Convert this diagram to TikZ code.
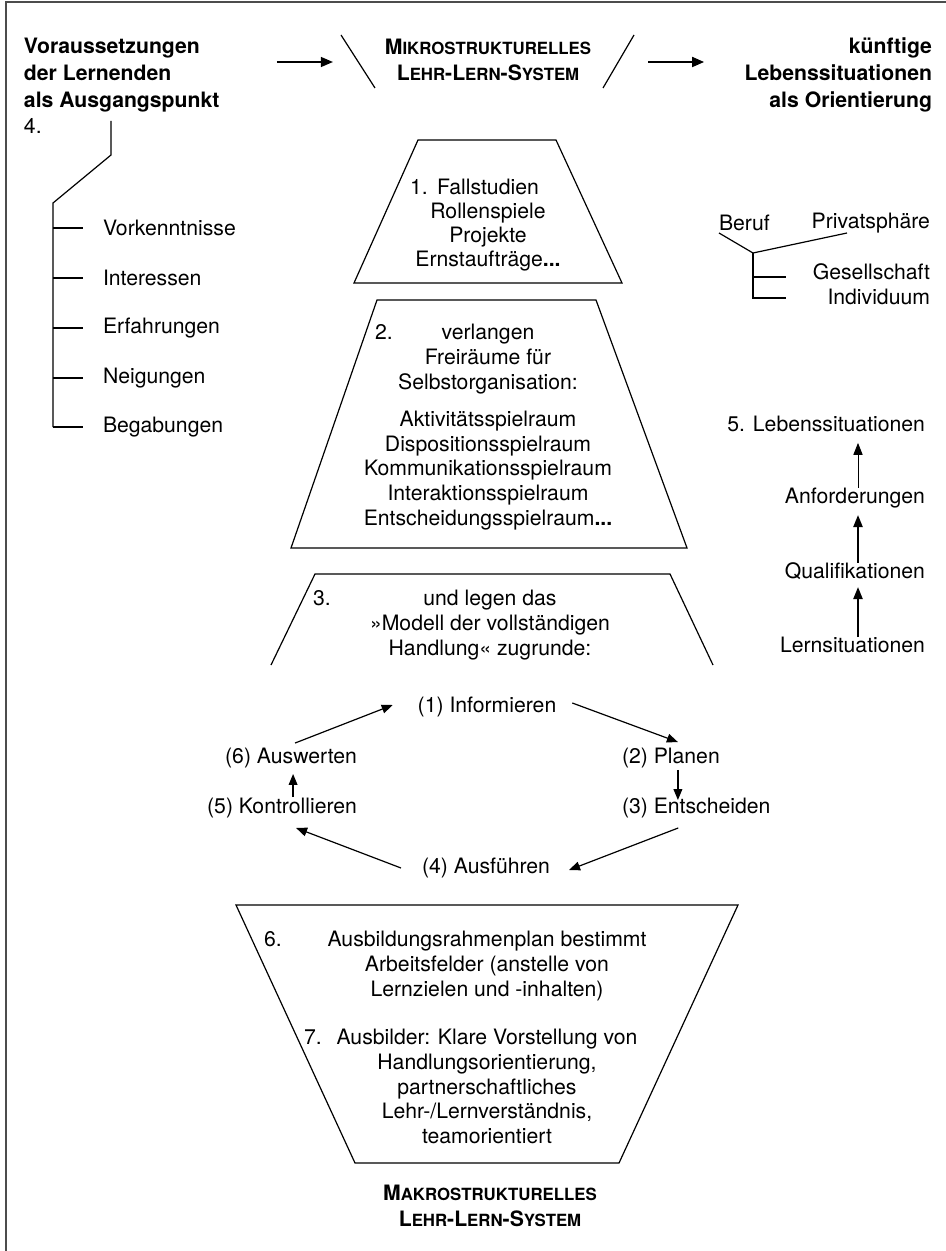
\documentclass[tikz,border=0pt]{standalone}
\usepackage{fontspec}
\setmainfont{TeX Gyre Heros}
\usetikzlibrary{arrows.meta, positioning}

% fake small caps for the system names
\newcommand{\ksc}[2]{#1{\fontsize{8.4}{9}\selectfont #2}}

\begin{document}
\begin{tikzpicture}[
    % ── Global: one unit = one pixel of the page, y downwards ──
    x=0.5pt, y=-0.5pt,
    every node/.style={inner sep=0pt, outer sep=0pt},
    % ── Text styles ──
    txt/.style={font=\fontsize{10.6}{12.3}\selectfont},
    ctxt/.style={txt, align=center},
    head/.style={font=\fontsize{10.6}{13.5}\selectfont\bfseries},
    sysname/.style={font=\fontsize{10.6}{12.8}\selectfont\bfseries, align=center},
    num/.style={txt, anchor=west},
    % ── Line styles ──
    shapeline/.style={line width=0.6pt, draw=black},
    frame/.style={line width=1pt, draw=black!70},
    harrow/.style={-{Triangle[length=6pt, width=5pt]}, line width=0.7pt},
    cyc/.style={-{Triangle[length=5.5pt, width=4.4pt]}, line width=0.6pt},
    uparrow/.style={-{Triangle[length=6pt, width=4.6pt]}, line width=0.9pt},
]

\useasboundingbox (0,0) rectangle (946,1251);
\draw[frame] (6,1251) -- (6,2) -- (946,2);

% ════════════════════════════════════════════════════════
%  HEADER
% ════════════════════════════════════════════════════════

\node (vor) [head, align=left, anchor=north west] at (24,38)
    {Voraussetzungen\\der Lernenden\\als Ausgangspunkt};

\node (zuk) [head, align=right, anchor=north east] at (932,38)
    {künftige\\Lebenssituationen\\als Orientierung};

\node (mik) [sysname] at (488,60)
    {\ksc{M}{IKROSTRUKTURELLES}\\\ksc{L}{EHR}-\ksc{L}{ERN}-\ksc{S}{YSTEM}};

\draw[shapeline] (341,35) -- (375,88);
\draw[shapeline] (634,35) -- (603,88);

\draw[harrow, line width=0.6pt] ([shift={(-108,2)}]mik.west) -- ([shift={(-52,2)}]mik.west);
\draw[harrow, line width=0.9pt] ([shift={(57,2)}]mik.east) -- ([shift={(113,2)}]mik.east);

% ════════════════════════════════════════════════════════
%  LEFT: 4. Voraussetzungen
% ════════════════════════════════════════════════════════

\node (n4) [num] at (24,126) {4.};
\draw[shapeline] (111,121) -- (111,155) -- (53,203) -- (53,427);

\foreach \y/\name/\lbl in {228/vk/Vorkenntnisse, 278/ir/Interessen,
        328/ef/Erfahrungen, 378/ng/Neigungen, 427/bg/Begabungen} {
    \node (\name) [txt, anchor=west] at (103,\y) {\lbl};
    \draw[shapeline] (53,\y) -- ([xshift=-10pt]\name.west);
}

% ════════════════════════════════════════════════════════
%  RIGHT: Lebensbereiche and 5. Lebenssituationen
% ════════════════════════════════════════════════════════

\node (ber) [txt, anchor=west] at (719,223) {Beruf};
\node (pri) [txt, anchor=east] at (930,223) {Privatsphäre};
\node (ges) [txt, anchor=east] at (930,272) {Gesellschaft};
\node (ind) [txt, anchor=east] at (930,297) {Individuum};

\coordinate (fork) at (753,253);
\draw[shapeline] (719,233) -- (fork) -- (847,233);
\draw[shapeline] (fork) -- (753,298) -- (786,298);
\draw[shapeline] (753,277) -- (786,277);

\node (leb) [txt, anchor=east] at (925,424) {5. Lebenssituationen};
\node (anf) [txt, anchor=east] at (925,498) {Anforderungen};
\node (qua) [txt, anchor=east] at (925,571) {Qualifikationen};
\node (lsi) [txt, anchor=east] at (925,645) {Lernsituationen};

\coordinate (axis) at (858,0);
\draw[uparrow, line width=0.45pt, shorten >=5.5pt] (anf.north -| axis) -- (leb.south -| axis);
\draw[uparrow, shorten >=3.5pt] (qua.north -| axis) -- (anf.south -| axis);
\draw[uparrow, shorten >=3.8pt] (lsi.north -| axis) -- (qua.south -| axis);

% ════════════════════════════════════════════════════════
%  CENTRE: trapezoids 1 - 3
% ════════════════════════════════════════════════════════

\draw[shapeline] (418,140) -- (556,140) -- (622,283) -- (354,283) -- cycle;
\node (t1) [ctxt, font=\fontsize{10.6}{11.9}\selectfont, anchor=north] at (488,179.5)
    {Fallstudien\\Rollenspiele\\Projekte\\Ernstaufträge{\bfseries...}};
\node (n1) [num] at (410,187) {1.};

\draw[shapeline] (377,300) -- (596,300) -- (687,548) -- (291,548) -- cycle;
\node (t2) [ctxt, anchor=north] at (488,324.5)
    {verlangen\\Freiräume für\\Selbstorganisation:\\[6.5pt]
     Aktivitätsspielraum\\Dispositionsspielraum\\Kommunikationsspielraum\\
     Interaktionsspielraum\\Entscheidungsspielraum{\bfseries...}};
\node (n2) [num] at (375,332) {2.};

\draw[shapeline] (271,665) -- (315,574) -- (670,574) -- (713,665);
\node (t3) [ctxt, anchor=north] at (490,590.5)
    {und legen das\\»Modell der vollständigen\\Handlung« zugrunde:};
\node (n3) [num] at (313,598) {3.};

% ════════════════════════════════════════════════════════
%  CYCLE: Modell der vollständigen Handlung
% ════════════════════════════════════════════════════════

\node (inf) [txt] at (487,707) {(1) Informieren};
\node (pla) [txt, anchor=west] at (622,758) {(2) Planen};
\node (ent) [txt, anchor=west] at (622,808) {(3) Entscheiden};
\node (aus) [txt] at (486,868) {(4) Ausführen};
\node (kon) [txt, anchor=east] at (357,808) {(5) Kontrollieren};
\node (wer) [txt, anchor=east] at (357,758) {(6) Auswerten};

\draw[cyc] ([shift={(4,-5)}]wer.north) -- ([shift={(-25,-2)}]inf.west);
\draw[cyc] ([shift={(16,-4)}]inf.east) -- ([shift={(7,-6)}]pla.north);
\draw[cyc] ([shift={(7,2)}]pla.south) -- ([shift={(7,2)}]pla.south |- ent.north);
\draw[cyc] ([shift={(-18,10)}]ent.south) -- ([shift={(19,2)}]aus.east);
\draw[cyc] ([shift={(-21,0)}]aus.west) -- ([shift={(14,10)}]kon.south);
\draw[cyc, shorten >=3.5pt] ([shift={(11,-1)}]kon.north) -- ([shift={(11,-1)}]kon.north |- wer.south);

% ════════════════════════════════════════════════════════
%  BOTTOM: trapezoid 6 - 7
% ════════════════════════════════════════════════════════

\draw[shapeline] (236,905) -- (738,905) -- (619,1163) -- (355,1163) -- cycle;
\node (t6) [ctxt, anchor=north] at (487,931.5)
    {Ausbildungsrahmenplan bestimmt\\Arbeitsfelder (anstelle von\\Lernzielen und -inhalten)};
\node (n6) [num] at (264,939) {6.};

\node (t7) [ctxt, anchor=north] at (487,1029.5)
    {Ausbilder: Klare Vorstellung von\\Handlungsorientierung,\\partnerschaftliches\\
     Lehr-/Lernverständnis,\\teamorientiert};
\node (n7) [num] at (304,1037) {7.};

\node (mak) [sysname, anchor=north] at (490,1185.5)
    {\ksc{M}{AKROSTRUKTURELLES}\\\ksc{L}{EHR}-\ksc{L}{ERN}-\ksc{S}{YSTEM}};

\end{tikzpicture}
\end{document}
